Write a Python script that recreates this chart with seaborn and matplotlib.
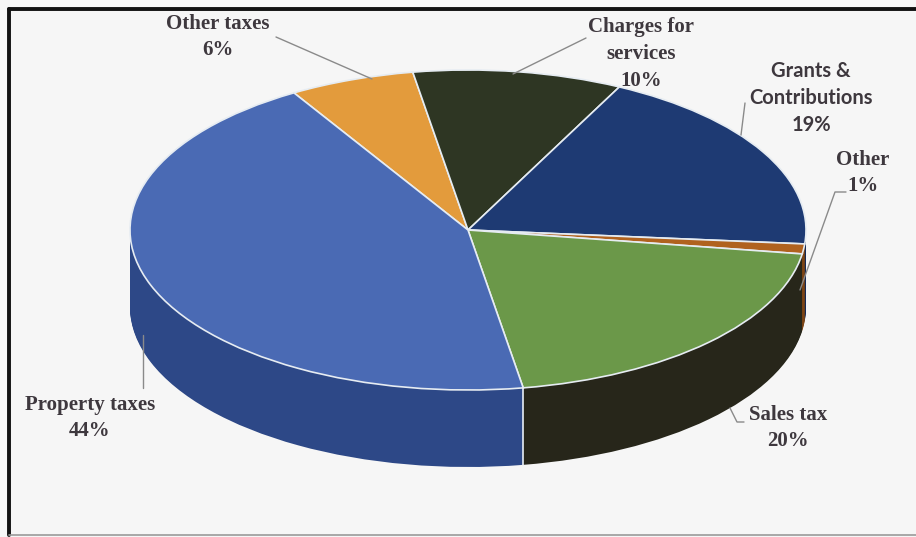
import numpy as np
import matplotlib
matplotlib.use("Agg")
import matplotlib.pyplot as plt
import seaborn as sns
from matplotlib.lines import Line2D

sns.set_theme(style="white")
plt.rcParams['font.family'] = ['Liberation Serif', 'DejaVu Serif']

# ---- data ----
categories = ["Other taxes", "Charges for services", "Grants & Contributions",
              "Other", "Sales tax", "Property taxes"]
shares = [6, 10, 19, 1, 20, 44]
label_texts = ["Other taxes\n6%", "Charges for\nservices\n10%",
               "Grants &\nContributions\n19%", "Other\n1%",
               "Sales tax\n20%", "Property taxes\n44%"]

top_colors = ["#E39B3C", "#2E3623", "#1E3A73", "#B0621F", "#6B9849", "#4A6AB4"]
side_colors = ["#B87A2A", "#1E2417", "#152A55", "#7E4514", "#27261A", "#2D4887"]

W, H = 916, 537
bg = "#F6F6F6"
fig = plt.figure(figsize=(W / 100, H / 100), dpi=100)
fig.patch.set_facecolor(bg)
ax = fig.add_axes([0, 0, 1, 1])
ax.set_facecolor(bg)

cx, cy = 468, 230      # ellipse centre (px, from top)
rx, ry = 338, 160      # ellipse radii (px)
thick = 77             # side wall thickness (px)
start = 121

# side wall: stacked pies
for k in range(thick, 0, -1):
    ax.pie(shares, colors=side_colors, startangle=start, counterclock=False,
           center=(0, -k / ry), radius=1.0,
           wedgeprops=dict(linewidth=0, antialiased=True))

# white separators on visible side
cum = start - np.cumsum([0] + shares) * 3.6
for ang in cum[:-1]:
    a = np.deg2rad(ang)
    if np.sin(a) < 0 and abs(np.cos(a)) < 0.95:
        ax.plot([np.cos(a), np.cos(a)], [np.sin(a), np.sin(a) - thick / ry],
                color="#E8EEF5", lw=1.2, zorder=5)

# top face
ax.pie(shares, colors=top_colors, startangle=start, counterclock=False,
       center=(0, 0), radius=1.0,
       wedgeprops=dict(linewidth=1.2, edgecolor="#E6ECF2"))

ax.set_aspect("auto")
ax.set_xlim(-cx / rx, (W - cx) / rx)
ax.set_ylim(-(H - cy) / ry, cy / ry)
ax.axis("off")

# ---- labels (figure pixel positions) ----
def fx(x):
    return x / W

def fy(y):
    return 1 - y / H

txt_color = "#3E383E"
label_pos = [(218, 37), (641, 54), (811, 98), (863, 173), (788, 428), (90, 418)]
for i, (t, (x, y)) in enumerate(zip(label_texts, label_pos)):
    if i == 2:
        fam, fs = ['Lato', 'DejaVu Sans'], 14.5
    else:
        fam, fs = ['Liberation Serif', 'DejaVu Serif'], 15
    fig.text(fx(x), fy(y), t, ha="center", va="center", fontsize=fs,
             fontweight="bold", color=txt_color, family=fam, linespacing=1.45)

leaders = [
    [(276, 37), (372, 79)],
    [(586, 38), (513, 74)],
    [(745, 103), (741, 135)],
    [(846, 192), (835, 192), (800, 290)],
    [(744, 422), (737, 422), (730, 408)],
    [(143, 388), (143, 335)],
]
for pts in leaders:
    xs = [fx(p[0]) for p in pts]
    ys = [fy(p[1]) for p in pts]
    fig.add_artist(Line2D(xs, ys, color="#8A8A8A", lw=1.0))

# frame
fig.add_artist(Line2D([fx(9), fx(916)], [fy(9), fy(9)], color="#111111", lw=2.8))
fig.add_artist(Line2D([fx(9), fx(9)], [fy(9), fy(535)], color="#111111", lw=2.8))
fig.add_artist(Line2D([fx(9), fx(916)], [fy(535), fy(535)], color="#9A9A9A", lw=1.2))

fig.savefig("out.png", dpi=100, facecolor=fig.get_facecolor())
